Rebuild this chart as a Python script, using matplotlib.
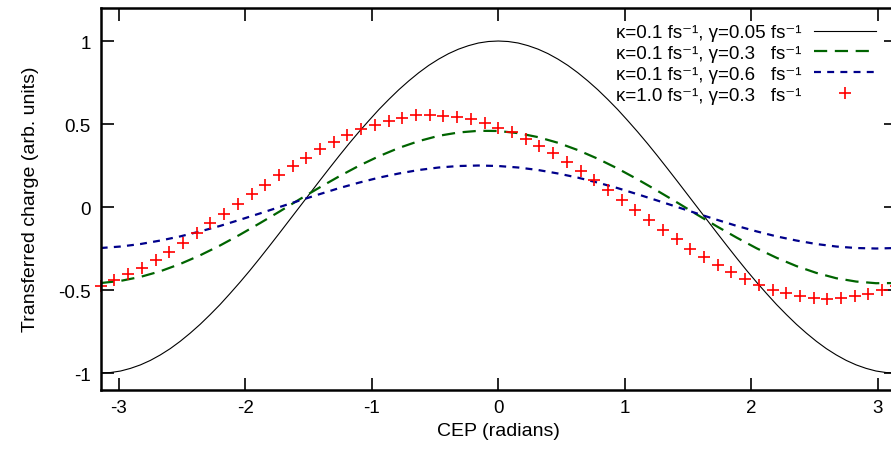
import numpy as np
import matplotlib
matplotlib.use("Agg")
import matplotlib.pyplot as plt

plt.rcParams['font.family'] = ['Liberation Sans', 'DejaVu Sans']
plt.rcParams['axes.unicode_minus'] = False
plt.rcParams['lines.scale_dashes'] = False

# ---- data ----
# black curve sampled at 81 points from -pi to pi
x_black = np.linspace(-np.pi, np.pi, 81)
black_half = [1.000, 0.997, 0.988, 0.972, 0.951, 0.924, 0.891, 0.853, 0.809, 0.760,
              0.707, 0.649, 0.588, 0.522, 0.454, 0.383, 0.309, 0.233, 0.156, 0.078,
              0.000, -0.078, -0.156, -0.233, -0.309, -0.383, -0.454, -0.522, -0.588, -0.649,
              -0.707, -0.760, -0.809, -0.853, -0.891, -0.924, -0.951, -0.972, -0.988, -0.997, -1.000]
black_vals = black_half[::-1] + black_half[1:]
# green and blue curves sampled at 41 points from -pi to pi
x_curve = np.linspace(-np.pi, np.pi, 41)
green_vals = [-0.458, -0.445, -0.421, -0.387, -0.343, -0.291, -0.232, -0.167, -0.098, -0.027,
              0.046, 0.117, 0.185, 0.249, 0.306, 0.356, 0.397, 0.429, 0.449, 0.459,
              0.458, 0.445, 0.421, 0.387, 0.343, 0.291, 0.232, 0.167, 0.098, 0.027,
              -0.046, -0.117, -0.185, -0.249, -0.306, -0.356, -0.397, -0.429, -0.449, -0.459, -0.458]
blue_vals = [-0.247, -0.238, -0.223, -0.202, -0.177, -0.147, -0.114, -0.077, -0.039, 0.000,
             0.039, 0.077, 0.114, 0.147, 0.177, 0.202, 0.223, 0.238, 0.247, 0.250,
             0.247, 0.238, 0.223, 0.202, 0.177, 0.147, 0.114, 0.077, 0.039, 0.000,
             -0.039, -0.077, -0.114, -0.147, -0.177, -0.202, -0.223, -0.238, -0.247, -0.250, -0.247]
# red crosses: 59 points from -pi to pi
x_red = np.linspace(-np.pi, np.pi, 59)
red_vals = [-0.478, -0.442, -0.402, -0.366, -0.322, -0.268, -0.215, -0.155, -0.098, -0.040,
            0.020, 0.080, 0.134, 0.195, 0.247, 0.297, 0.347, 0.391, 0.435, 0.471,
            0.496, 0.518, 0.536, 0.552, 0.556, 0.550, 0.540, 0.528, 0.508, 0.478,
            0.450, 0.411, 0.367, 0.323, 0.271, 0.217, 0.160, 0.100, 0.044, -0.020,
            -0.081, -0.137, -0.195, -0.251, -0.301, -0.348, -0.392, -0.436, -0.472, -0.498,
            -0.516, -0.536, -0.548, -0.552, -0.548, -0.538, -0.526, -0.502, -0.478]

labels = ['κ=0.1 fs⁻¹, γ=0.05 fs⁻¹',
          'κ=0.1 fs⁻¹, γ=0.3   fs⁻¹',
          'κ=0.1 fs⁻¹, γ=0.6   fs⁻¹',
          'κ=1.0 fs⁻¹, γ=0.3   fs⁻¹']
xticks = [-3, -2, -1, 0, 1, 2, 3]
yticks = [-1, -0.5, 0, 0.5, 1]
ytick_labels = ['-1', '-0.5', '0', '0.5', '1']

# ---- figure ----
fig = plt.figure(figsize=(8.91, 4.52), dpi=100)
ax = fig.add_axes([0.1130, 0.1358, 0.8925, 0.8447])

fs = 13.5
l1, = ax.plot(x_black, black_vals, color='black', lw=0.8, label=labels[0])
l2, = ax.plot(x_curve, green_vals, color='#006400', lw=1.6, dashes=(9.5, 5.5), label=labels[1])
l3, = ax.plot(x_curve, blue_vals, color='#00008b', lw=1.6, dashes=(5.0, 4.5), label=labels[2])
l4, = ax.plot(x_red, red_vals, ls='none', marker='+', ms=9, mew=1.2, color='#ff0000',
              clip_on=False, label=labels[3])

ax.set_xlim(-np.pi, np.pi)
ax.set_ylim(-1.1, 1.2)
ax.set_xticks(xticks)
ax.set_xticklabels([str(t) for t in xticks])
ax.set_yticks(yticks)
ax.set_yticklabels(ytick_labels)
ax.tick_params(direction='in', length=9, width=1.2, top=True, right=True,
               labelsize=fs, pad=7)
for s in ax.spines.values():
    s.set_linewidth(1.8)

ax.set_xlabel('CEP (radians)', fontsize=14, labelpad=4)
ax.set_ylabel('Transferred charge (arb. units)', fontsize=14, labelpad=14)

leg = ax.legend(handles=[l1, l2, l3, l4], loc='upper right', bbox_to_anchor=(0.994, 0.997),
                frameon=False, markerfirst=False, fontsize=fs, handlelength=3.3,
                labelspacing=0.2, handletextpad=0.7, borderpad=0.3)

fig.savefig('out.png', dpi=100)
